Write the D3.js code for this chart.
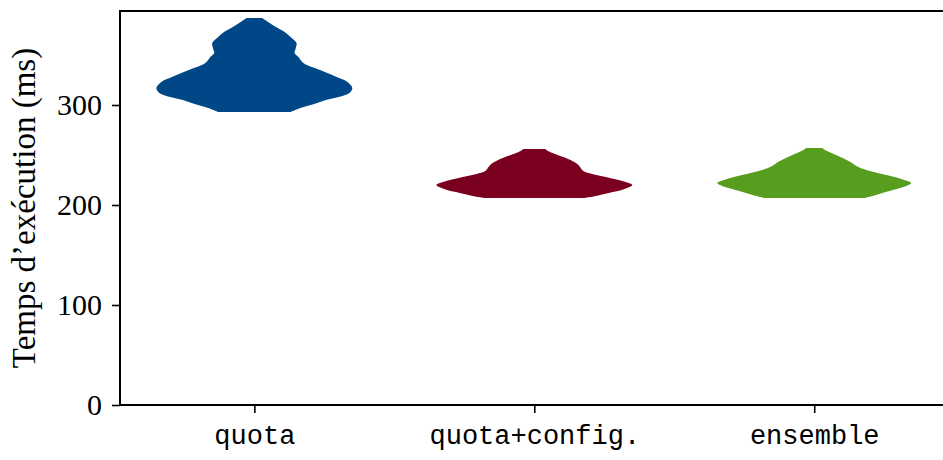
<!DOCTYPE html>
<meta charset="utf-8">
<style>
body { margin: 0; background: #fff; }
.tick text { font-family: "Liberation Serif", "DejaVu Serif", serif; font-size: 30px; fill: #000; }
.xax .tick text { font-family: "Liberation Mono", "DejaVu Sans Mono", monospace; font-size: 27px; }
.ylabel { font-family: "Liberation Serif", "DejaVu Serif", serif; font-size: 33px; }
</style>
<body>
<script src="https://cdn.jsdelivr.net/npm/d3@7"></script>
<script>
// categories and colours
var categories = ["quota", "quota+config.", "ensemble"];
var colors = ["#004787", "#7b0020", "#589e1e"];
var yTicks = [0, 100, 200, 300];

// violin profiles: ms value and relative density (1 = widest)
var quotaMs      = [387, 383, 378, 373, 368, 362, 356, 352, 348, 342, 335, 328, 323, 317, 312, 308, 305, 301, 297, 293];
var quotaDens    = [.08, .14, .22, .31, .37, .43, .42, .41, .45, .50, .67, .84, .95, 1.0, .97, .86, .73, .61, .47, .37];
var configMs     = [256, 253, 250, 245, 240, 234, 231, 228, 224, 220, 216, 212, 209, 207];
var configDens   = [.11, .16, .24, .37, .45, .50, .59, .73, .90, 1.0, .92, .76, .63, .51];
var ensembleMs   = [257, 254, 251, 247, 243, 239, 235, 232, 228, 225, 222, 219, 216, 213, 210, 207];
var ensembleDens = [.08, .13, .20, .29, .37, .43, .53, .65, .82, .92, .99, .94, .84, .73, .63, .51];

var violins = [
  {ms: quotaMs, dens: quotaDens},
  {ms: configMs, dens: configDens},
  {ms: ensembleMs, dens: ensembleDens}
];

var W = 943, H = 460;
var mLeft = 120, mTop = 11, mBottom = 405, mRight = 943;

var svg = d3.select("body").append("svg").attr("width", W).attr("height", H);

var x = d3.scaleLinear().domain([0.52, 3.46]).range([mLeft, mRight]);
var y = d3.scaleLinear().domain([0, 394]).range([mBottom, mTop]);
var halfW = 0.35; // half width of a violin, in x units

violins.forEach(function (v, i) {
  var pts = v.ms.map(function (m, k) { return {m: m, d: v.dens[k]}; });
  var cx = i + 1;
  var area = d3.area()
    .curve(d3.curveCatmullRom)
    .y(function (p) { return y(p.m); })
    .x0(function (p) { return x(cx - p.d * halfW); })
    .x1(function (p) { return x(cx + p.d * halfW); });
  svg.append("path").datum(pts)
    .attr("d", area)
    .attr("fill", colors[i]);
});

// axes
var yAxis = d3.axisLeft(y).tickValues(yTicks).tickSize(8).tickPadding(10);
svg.append("g").attr("transform", "translate(" + mLeft + ",0)").call(yAxis)
  .call(function (g) { g.select(".domain").remove(); })
  .selectAll(".tick line").attr("stroke-width", 1.6);

var xAxis = d3.axisBottom(x).tickValues([1, 2, 3])
  .tickFormat(function (d) { return categories[d - 1]; })
  .tickSize(8).tickPadding(12);
svg.append("g").attr("class", "xax").attr("transform", "translate(0," + mBottom + ")").call(xAxis)
  .call(function (g) { g.select(".domain").remove(); })
  .selectAll(".tick line").attr("stroke-width", 1.6);

// spines
svg.append("path")
  .attr("d", "M" + mRight + "," + mTop + "H" + mLeft + "V" + mBottom + "H" + mRight)
  .attr("fill", "none").attr("stroke", "#000").attr("stroke-width", 2);

svg.append("text").attr("class", "ylabel")
  .attr("transform", "translate(35," + ((mTop + mBottom) / 2) + ") rotate(-90)")
  .attr("text-anchor", "middle")
  .text("Temps d\u2019exécution (ms)");
</script>
</body>
